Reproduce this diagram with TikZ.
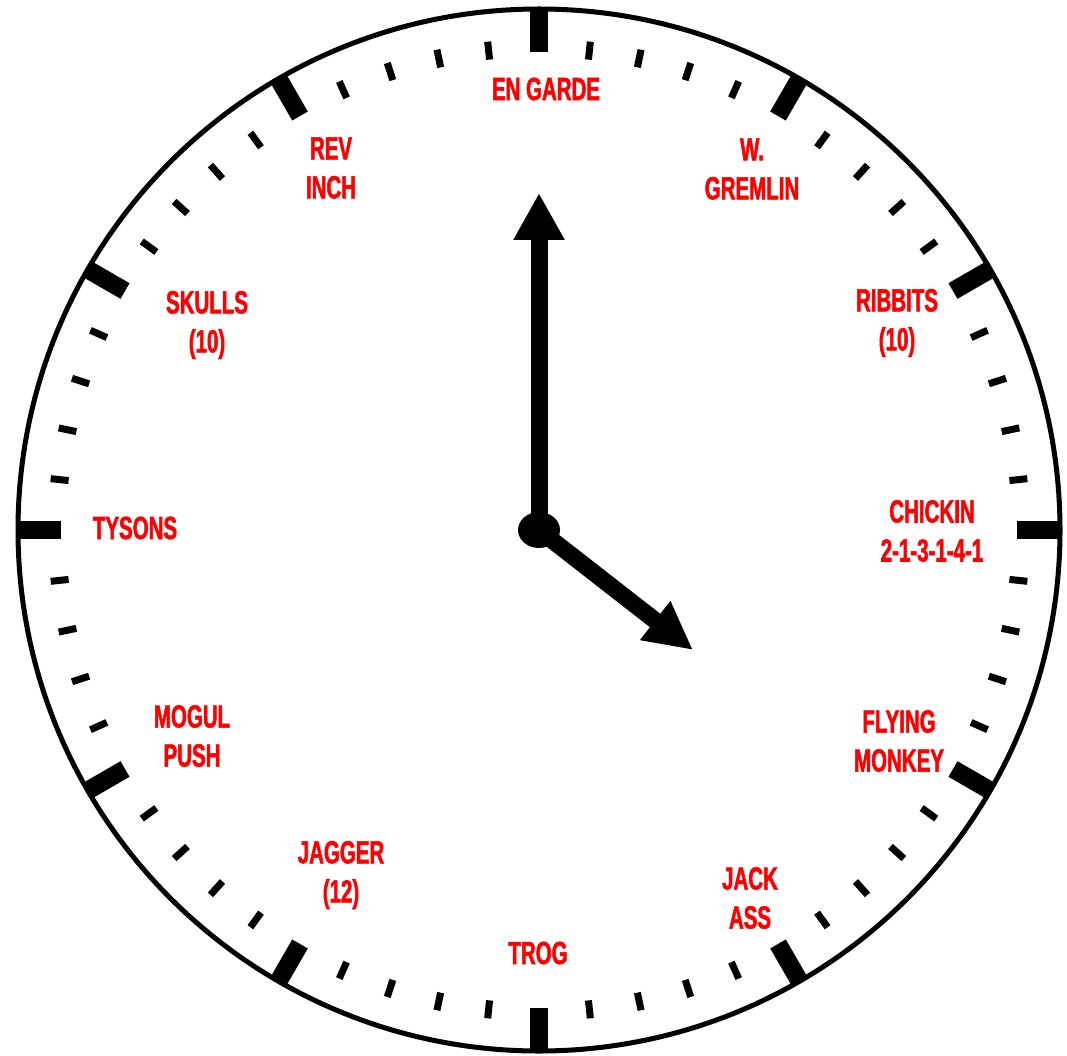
\documentclass[tikz,border=0pt]{standalone}
\usepackage{fontspec}
\usetikzlibrary{arrows.meta}
\newfontfamily\clockfont[FakeStretch=0.64,FakeBold=1.6]{Liberation Sans Bold}

\begin{document}
\begin{tikzpicture}
[
	x=1pt,
	y=-1pt,
	rim/.style={line width=5pt},
	hourtick/.style={line width=18pt},
	minutetick/.style={line width=7pt},
	hand/.style={line width=17pt},
	spot/.style={red,font=\clockfont\fontsize{32}{39}\selectfont,align=center,inner sep=0pt}
]

	\useasboundingbox (0,0) rectangle (1067,1056);
	\fill[white] (0,0) rectangle (1067,1056);

	\coordinate (hub) at (539,530);

	% dial
	\draw[rim] (hub) circle (521);

	% ticks
	\begin{scope}[shift={(hub)}]
		\foreach \a in {0,30,...,330} {
			\draw[hourtick] (\a:478) -- (\a:522);
		}
		\foreach \a in {0,6,...,354} {
			\pgfmathtruncatemacro{\r}{mod(\a,30)}
			\ifnum\r>0
				\draw[minutetick] (\a:473) -- (\a:491);
			\fi
		}
	\end{scope}

	% names
	\node[spot] (engarde) at (546,89) {EN GARDE};
	\node[spot] (gremlin) at (752,169) {W.\\GREMLIN};
	\node[spot] (ribbits) at (897,323) {RIBBITS\\(10)};
	\node[spot] (chickin) at (932,531) {CHICKIN\\2-1-3-1-4-1};
	\node[spot] (monkey) at (899,741) {FLYING\\MONKEY};
	\node[spot] (jackass) at (750,898) {JACK\\ASS};
	\node[spot] (trog) at (538,953) {TROG};
	\node[spot] (jagger) at (341,875) {JAGGER\\(12)};
	\node[spot] (mogul) at (192,736) {MOGUL\\PUSH};
	\node[spot] (tysons) at (135,528) {TYSONS};
	\node[spot] (skulls) at (207,325) {SKULLS\\(10)};
	\node[spot] (revinch) at (331,168) {REV\\INCH};

	% hands
	\coordinate (minute tip) at (539,193);
	\coordinate (hour tip) at (693,650);
	\draw[hand,-{Triangle[width=48pt,length=47pt]}] (hub) -- (minute tip);
	\draw[hand,-{Triangle[width=46pt,length=48pt]}] (hub) -- (hour tip);
	\fill (hub) ellipse [x radius=21, y radius=18];

\end{tikzpicture}
\end{document}
